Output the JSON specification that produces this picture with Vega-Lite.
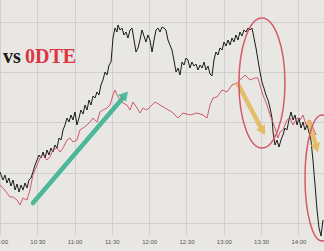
{
  "$schema": "https://vega.github.io/schema/vega-lite/v6.json",
  "autosize": {"type": "none"},
  "padding": {"left": 0, "top": 0, "right": 0, "bottom": 16},
  "width": 324,
  "height": 235,
  "background": "#e9e7e3",
  "config": {"view": {"stroke": null}},
  "datasets": {
    "black": [
      {"t":0,"v":63},{"t":2.4,"v":55},{"t":4.0,"v":60},{"t":5.6,"v":52},{"t":7.2,"v":57},{"t":8.8,"v":49},{"t":10.5,"v":55},{"t":12.1,"v":45},{"t":13.7,"v":51},{"t":15.3,"v":43},{"t":16.9,"v":50},{"t":18.5,"v":45},{"t":20.1,"v":52},{"t":21.7,"v":47},{"t":23.3,"v":55},{"t":24.9,"v":57},{"t":26.5,"v":63},{"t":28.2,"v":70},{"t":29.8,"v":75},{"t":31.4,"v":80},{"t":33.0,"v":77},{"t":34.6,"v":83},{"t":36.2,"v":77},{"t":37.8,"v":85},{"t":39.4,"v":80},{"t":41.0,"v":87},{"t":42.6,"v":83},{"t":44.2,"v":90},{"t":45.8,"v":87},{"t":47.5,"v":97},{"t":49.1,"v":95},{"t":50.7,"v":105},{"t":52.3,"v":110},{"t":53.9,"v":117},{"t":55.5,"v":113},{"t":57.1,"v":120},{"t":58.7,"v":115},{"t":60.3,"v":123},{"t":61.9,"v":110},{"t":63.5,"v":117},{"t":65.1,"v":125},{"t":66.8,"v":121},{"t":68.4,"v":130},{"t":70.0,"v":125},{"t":71.6,"v":135},{"t":73.2,"v":130},{"t":74.8,"v":139},{"t":76.4,"v":137},{"t":78.0,"v":143},{"t":79.6,"v":140},{"t":81.2,"v":150},{"t":82.8,"v":155},{"t":84.5,"v":163},{"t":86.1,"v":160},{"t":87.7,"v":170},{"t":89.3,"v":173},{"t":90.1,"v":185},{"t":90.9,"v":197},{"t":92.5,"v":207},{"t":94.1,"v":203},{"t":94.9,"v":210},{"t":96.5,"v":205},{"t":98.1,"v":207},{"t":99.7,"v":200},{"t":101.3,"v":203},{"t":102.9,"v":197},{"t":104.6,"v":205},{"t":106.2,"v":207},{"t":107.8,"v":195},{"t":109.4,"v":183},{"t":111.0,"v":187},{"t":112.6,"v":195},{"t":114.2,"v":205},{"t":115.8,"v":199},{"t":117.4,"v":193},{"t":119.0,"v":200},{"t":120.6,"v":195},{"t":122.3,"v":183},{"t":123.9,"v":195},{"t":125.5,"v":205},{"t":127.1,"v":207},{"t":128.7,"v":203},{"t":130.3,"v":208},{"t":131.9,"v":207},{"t":133.5,"v":205},{"t":135.1,"v":195},{"t":136.7,"v":190},{"t":138.3,"v":185},{"t":139.9,"v":175},{"t":141.6,"v":163},{"t":143.2,"v":167},{"t":144.8,"v":160},{"t":146.4,"v":173},{"t":148.0,"v":170},{"t":149.6,"v":177},{"t":151.2,"v":175},{"t":152.8,"v":167},{"t":154.4,"v":173},{"t":156.0,"v":169},{"t":157.6,"v":171},{"t":159.3,"v":165},{"t":160.9,"v":170},{"t":162.5,"v":167},{"t":164.1,"v":173},{"t":165.7,"v":165},{"t":167.3,"v":169},{"t":168.9,"v":161},{"t":170.5,"v":159},{"t":172.1,"v":175},{"t":173.7,"v":183},{"t":175.3,"v":180},{"t":176.9,"v":187},{"t":178.6,"v":185},{"t":180.2,"v":193},{"t":181.8,"v":189},{"t":183.4,"v":195},{"t":185.0,"v":190},{"t":186.6,"v":197},{"t":188.2,"v":193},{"t":189.8,"v":200},{"t":191.4,"v":195},{"t":193.0,"v":203},{"t":194.6,"v":199},{"t":196.2,"v":205},{"t":197.9,"v":203},{"t":199.5,"v":207},{"t":201.1,"v":205},{"t":202.7,"v":207},{"t":204.3,"v":197},{"t":205.9,"v":187},{"t":207.5,"v":175},{"t":209.1,"v":163},{"t":210.7,"v":153},{"t":212.3,"v":147},{"t":213.9,"v":140},{"t":215.6,"v":135},{"t":217.2,"v":127},{"t":218.8,"v":117},{"t":219.6,"v":103},{"t":221.2,"v":90},{"t":222.8,"v":95},{"t":224.4,"v":88},{"t":226.0,"v":95},{"t":227.6,"v":100},{"t":229.2,"v":107},{"t":230.8,"v":105},{"t":232.4,"v":115},{"t":234.1,"v":123},{"t":235.7,"v":115},{"t":237.3,"v":120},{"t":238.9,"v":110},{"t":240.5,"v":117},{"t":242.1,"v":107},{"t":243.7,"v":113},{"t":245.3,"v":105},{"t":246.9,"v":110},{"t":248.5,"v":103},{"t":250.1,"v":95},{"t":251.7,"v":75},{"t":253.4,"v":50},{"t":255.0,"v":25},{"t":256.6,"v":7},{"t":258.2,"v":-1},{"t":259.8,"v":15}
    ],
    "red": [
      {"t":0,"v":50},{"t":2.4,"v":47},{"t":5.6,"v":42},{"t":8.0,"v":38},{"t":10.5,"v":38},{"t":13.7,"v":35},{"t":16.1,"v":30},{"t":18.5,"v":37},{"t":21.7,"v":35},{"t":24.1,"v":45},{"t":25.7,"v":55},{"t":26.5,"v":60},{"t":29.8,"v":70},{"t":32.2,"v":77},{"t":34.6,"v":80},{"t":37.8,"v":75},{"t":40.2,"v":78},{"t":42.6,"v":85},{"t":45.8,"v":87},{"t":48.3,"v":83},{"t":50.7,"v":87},{"t":53.9,"v":95},{"t":56.3,"v":97},{"t":58.7,"v":93},{"t":61.9,"v":95},{"t":64.3,"v":105},{"t":66.8,"v":107},{"t":70.0,"v":110},{"t":72.4,"v":113},{"t":74.8,"v":117},{"t":78.0,"v":113},{"t":80.4,"v":123},{"t":82.8,"v":125},{"t":86.1,"v":127},{"t":88.5,"v":130},{"t":90.9,"v":140},{"t":92.5,"v":145},{"t":94.1,"v":140},{"t":96.5,"v":135},{"t":98.9,"v":132},{"t":102.1,"v":130},{"t":104.6,"v":125},{"t":107.0,"v":133},{"t":110.2,"v":127},{"t":112.6,"v":122},{"t":115.0,"v":127},{"t":118.2,"v":125},{"t":120.6,"v":128},{"t":124.7,"v":133},{"t":128.7,"v":130},{"t":132.7,"v":127},{"t":138.3,"v":123},{"t":143.2,"v":117},{"t":147.2,"v":122},{"t":152.8,"v":120},{"t":158.4,"v":122},{"t":163.3,"v":120},{"t":166.5,"v":117},{"t":168.9,"v":130},{"t":171.3,"v":137},{"t":174.5,"v":138},{"t":178.6,"v":145},{"t":182.6,"v":143},{"t":186.6,"v":150},{"t":190.6,"v":152},{"t":193.0,"v":155},{"t":197.1,"v":160},{"t":201.1,"v":155},{"t":205.1,"v":157},{"t":207.5,"v":157},{"t":209.1,"v":150},{"t":211.5,"v":140},{"t":214.7,"v":130},{"t":217.2,"v":120},{"t":218.8,"v":115},{"t":221.2,"v":107},{"t":223.6,"v":97},{"t":225.2,"v":103},{"t":227.6,"v":105},{"t":230.8,"v":115},{"t":233.2,"v":117},{"t":235.7,"v":110},{"t":238.9,"v":117},{"t":241.3,"v":115},{"t":243.7,"v":120},{"t":246.1,"v":110},{"t":249.3,"v":115},{"t":252.5,"v":105},{"t":254.2,"v":100}
    ]
  },
  "layer": [
    {
      "data": {"name": "black"},
      "mark": {"type": "line", "color": "#1b1b1b", "strokeWidth": 1, "interpolate": "linear"},
      "encoding": {
        "x": {"field": "t", "type": "quantitative",
              "scale": {"domain": [0, 260.6], "nice": false, "zero": false},
              "axis": {"title": null, "values": [0,30,60,90,120,150,180,210,240],
                       "labelExpr": "['10:00','10:30','11:00','11:30','12:00','12:30','13:00','13:30','14:00'][round(datum.value/30)]",
                       "labelFontSize": 6, "labelColor": "#555555", "labelFont": "Liberation Sans",
                       "labelPadding": 3, "labelOverlap": false, "labelBound": false, "labelFlush": false,
                       "ticks": false, "domain": false,
                       "grid": true, "gridColor": "#d2d0cc", "gridWidth": 1}},
        "y": {"field": "v", "type": "quantitative",
              "scale": {"domain": [0, 235], "nice": false, "zero": false},
              "axis": {"title": null, "labels": false, "ticks": false, "domain": false,
                       "values": [12.5,25,37.5,50,62.5,75,87.5,100,112.5,125,137.5,150,162.5,175,187.5,200,212.5,225],
                       "grid": true, "gridColor": "#d2d0cc", "gridWidth": 1}}
      }
    },
    {
      "data": {"name": "red"},
      "mark": {"type": "line", "color": "#cc4a5c", "strokeWidth": 0.9},
      "encoding": {
        "x": {"field": "t", "type": "quantitative"},
        "y": {"field": "v", "type": "quantitative"}
      }
    },
    {
      "data": {"values": [
        {"t": 26.5, "v": 32, "a": "teal"}, {"t": 98.1, "v": 136, "a": "teal"},
        {"t": 191.4, "v": 151, "a": "gold1"}, {"t": 209.1, "v": 109, "a": "gold1"},
        {"t": 248.5, "v": 113, "a": "gold2"}, {"t": 253.4, "v": 93, "a": "gold2"}
      ]},
      "mark": {"type": "line", "strokeCap": "round", "strokeWidth": 4.5},
      "encoding": {
        "x": {"field": "t", "type": "quantitative"},
        "y": {"field": "v", "type": "quantitative"},
        "detail": {"field": "a"},
        "color": {"field": "a", "type": "nominal", "legend": null,
                  "scale": {"domain": ["teal", "gold1", "gold2"], "range": ["#43b495", "#e3b75c", "#e3b75c"]}},
        "opacity": {"field": "a", "type": "nominal", "legend": null,
                    "scale": {"domain": ["teal", "gold1", "gold2"], "range": [0.95, 0.85, 0.85]}}
      }
    },
    {
      "data": {"values": [
        {"t": 100.5, "v": 140, "a": "teal", "ang": 40},
        {"t": 211.3, "v": 104, "a": "gold1", "ang": 150},
        {"t": 254.6, "v": 87, "a": "gold2", "ang": 163}
      ]},
      "mark": {"type": "point", "shape": "triangle-up", "filled": true, "size": 110},
      "encoding": {
        "x": {"field": "t", "type": "quantitative"},
        "y": {"field": "v", "type": "quantitative"},
        "angle": {"field": "ang", "type": "quantitative", "scale": null},
        "color": {"field": "a", "type": "nominal", "legend": null,
                  "scale": {"domain": ["teal", "gold1", "gold2"], "range": ["#43b495", "#e3b75c", "#e3b75c"]}},
        "opacity": {"value": 0.9}
      }
    },
    {
      "data": {"values": [{"t": 210.7, "v": 152}]},
      "mark": {"type": "point", "filled": false, "stroke": "#d65a68", "strokeWidth": 1.5, "opacity": 1, "size": 16900,
               "shape": "M 0.354 0 C 0.354 0.552 0.196 1 0 1 C -0.196 1 -0.354 0.552 -0.354 0 C -0.354 -0.552 -0.196 -1 0 -1 C 0.196 -1 0.354 -0.552 0.354 0 Z"},
      "encoding": {
        "x": {"field": "t", "type": "quantitative"},
        "y": {"field": "v", "type": "quantitative"}
      }
    },
    {
      "data": {"values": [{"t": 259.0, "v": 57}]},
      "mark": {"type": "point", "filled": false, "stroke": "#d65a68", "strokeWidth": 1.5, "opacity": 1, "size": 15876,
               "shape": "M 0.27 0 C 0.27 0.552 0.149 1 0 1 C -0.149 1 -0.27 0.552 -0.27 0 C -0.27 -0.552 -0.149 -1 0 -1 C 0.149 -1 0.27 -0.552 0.27 0 Z"},
      "encoding": {
        "x": {"field": "t", "type": "quantitative"},
        "y": {"field": "v", "type": "quantitative"}
      }
    },
    {
      "data": {"values": [{"t": 2.4, "v": 172, "label": "vs"}]},
      "mark": {"type": "text", "font": "Liberation Serif", "fontWeight": "bold", "fontSize": 20, "align": "left", "baseline": "alphabetic", "color": "#1a1a1a"},
      "encoding": {
        "x": {"field": "t", "type": "quantitative"},
        "y": {"field": "v", "type": "quantitative"},
        "text": {"field": "label"}
      }
    },
    {
      "data": {"values": [{"t": 20.1, "v": 172, "label": "0DTE"}]},
      "mark": {"type": "text", "font": "Liberation Serif", "fontWeight": "bold", "fontSize": 20, "align": "left", "baseline": "alphabetic", "color": "#dc3440"},
      "encoding": {
        "x": {"field": "t", "type": "quantitative"},
        "y": {"field": "v", "type": "quantitative"},
        "text": {"field": "label"}
      }
    }
  ]
}
